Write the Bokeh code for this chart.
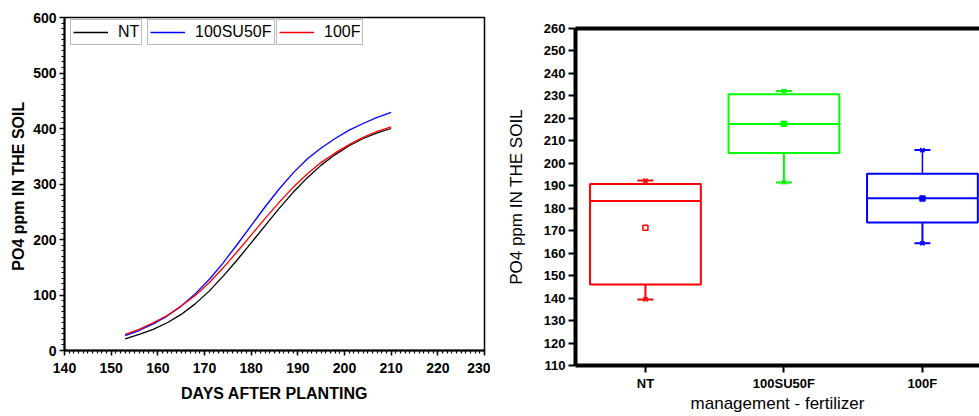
from bokeh.plotting import figure
from bokeh.layouts import row, column
from bokeh.models import (Range1d, LinearAxis, FixedTicker, Legend, LegendItem,
                          SingleIntervalTicker, ColumnDataSource)
from bokeh.embed import file_html
from bokeh.resources import INLINE

# ---------------- data: left chart (curves) ----------------
days = [153, 156, 159, 162, 165, 168, 171, 174, 177, 180,
        183, 186, 189, 192, 195, 198, 201, 204, 207, 210]
nt_vals = [21, 29, 38, 50, 65, 84, 107, 134, 163, 194,
           225, 256, 285, 311, 334, 353, 369, 382, 392, 400]
su50f_vals = [27, 36, 48, 62, 80, 102, 128, 158, 191, 225,
              259, 291, 320, 345, 365, 382, 397, 409, 420, 429]
f100_vals = [29, 38, 50, 63, 80, 99, 122, 149, 178, 208,
             238, 267, 294, 318, 339, 356, 371, 384, 395, 403]
series_names = ["NT", "100SU50F", "100F"]

# ---------------- data: right chart (box plot) ----------------
categories = ["NT", "100SU50F", "100F"]
q1 = [146.1, 204.6, 173.6]
median = [183.2, 217.5, 184.4]
q3 = [190.8, 230.7, 195.3]
mean = [171.3, 217.6, 184.3]
whisk_low = [139.4, 191.5, 164.4]
whisk_high = [192.3, 232.2, 205.9]

FONT = "Liberation Sans"

# ================= left figure =================
p1 = figure(width=490, height=416, x_range=Range1d(140, 230), y_range=Range1d(0, 600),
            output_backend="svg", toolbar_location=None,
            min_border_left=64, min_border_right=6, min_border_top=17, min_border_bottom=66)
p1.xgrid.visible = False
p1.ygrid.visible = False
p1.outline_line_color = "black"
p1.outline_line_width = 1.5
p1.background_fill_color = "white"
p1.border_fill_color = "white"

p1.xaxis.ticker = SingleIntervalTicker(interval=10, num_minor_ticks=10)
p1.yaxis.ticker = SingleIntervalTicker(interval=100, num_minor_ticks=10)
for ax in (p1.xaxis[0], p1.yaxis[0]):
    ax.axis_line_width = 2
    ax.major_tick_in = 0
    ax.major_tick_out = 5
    ax.minor_tick_in = 0
    ax.minor_tick_out = 3
    ax.major_tick_line_width = 1.5
    ax.minor_tick_line_width = 1.2
    ax.major_label_text_font = FONT
    ax.major_label_text_font_size = "14px"
    ax.major_label_text_font_style = "bold"
    ax.major_label_text_color = "black"
    ax.axis_label_text_font = FONT
    ax.axis_label_text_font_size = "16px"
    ax.axis_label_text_font_style = "bold"
    ax.axis_label_text_color = "black"
p1.xaxis.axis_label = "DAYS AFTER PLANTING"
p1.yaxis.axis_label = "PO4 ppm  IN THE SOIL"
p1.xaxis.major_label_standoff = 7
p1.xaxis.axis_label_standoff = 9
p1.yaxis.major_label_standoff = 3
p1.yaxis.axis_label_standoff = 3

r_nt = p1.line(days, nt_vals, line_color="black", line_width=1.3)
r_su = p1.line(days, su50f_vals, line_color="#0000FF", line_width=1.3)
r_f = p1.line(days, f100_vals, line_color="#FF0000", line_width=1.3)

for name, rend, vx in zip(series_names, [r_nt, r_su, r_f], [6, 83, 212]):
    leg = Legend(items=[LegendItem(label=name, renderers=[rend])], location=(vx, 305),
                 orientation="horizontal", border_line_color="#777777", border_line_width=1.5,
                 label_text_font=FONT, label_text_font_size="16px", label_text_color="black",
                 label_height=20, glyph_width=35, glyph_height=16, padding=2, margin=0, spacing=0,
                 label_standoff=10, background_fill_color="white", background_fill_alpha=1)
    p1.add_layout(leg)

# ================= right figure =================
xs = [i + 1 for i in range(len(categories))]
colors = ["#FF0000", "#00FF00", "#0000FF"]
mean_fill = ["white", "#00FF00", "#0000FF"]

p2 = figure(width=489, height=416, x_range=Range1d(0.495, 3.412), y_range=Range1d(110, 260),
            output_backend="svg", toolbar_location=None,
            min_border_left=85, min_border_right=0, min_border_top=28, min_border_bottom=51)
p2.xgrid.visible = False
p2.ygrid.visible = False
p2.outline_line_color = None
p2.background_fill_color = "white"
p2.border_fill_color = "white"

p2.yaxis.ticker = SingleIntervalTicker(interval=10, num_minor_ticks=0)
p2.xaxis.ticker = FixedTicker(ticks=xs)
p2.xaxis.major_label_overrides = {x: c for x, c in zip(xs, categories)}
for ax in (p2.xaxis[0], p2.yaxis[0]):
    ax.axis_line_width = 4
    ax.major_tick_in = 0
    ax.major_tick_out = 7
    ax.minor_tick_out = 0
    ax.minor_tick_in = 0
    ax.major_tick_line_width = 2
    ax.major_label_text_font = FONT
    ax.major_label_text_font_size = "13px"
    ax.major_label_text_font_style = "bold"
    ax.major_label_text_color = "black"
    ax.axis_label_text_font = FONT
    ax.axis_label_text_font_size = "17px"
    ax.axis_label_text_font_style = "normal"
    ax.axis_label_text_color = "black"
p2.xaxis.axis_label = "management - fertilizer"
p2.yaxis.axis_label = "PO4 ppm IN THE SOIL"
p2.xaxis.major_label_standoff = 3
p2.xaxis.axis_label_standoff = 0
p2.yaxis.major_label_standoff = 3
p2.yaxis.axis_label_standoff = 15

top_axis = LinearAxis(ticker=FixedTicker(ticks=[]), axis_line_width=4,
                      major_tick_out=0, major_tick_in=0, minor_tick_out=0, minor_tick_in=0)
p2.add_layout(top_axis, "above")

src = ColumnDataSource(dict(x=xs, q1=q1, q3=q3, med=median, mean=mean,
                            lo=whisk_low, hi=whisk_high, color=colors, mfill=mean_fill,
                            x0=[x - 0.4 for x in xs], x1=[x + 0.4 for x in xs]))

p2.vbar(x="x", width=0.8, bottom="q1", top="q3", source=src,
        fill_color=None, line_color="color", line_width=2)
p2.segment(x0="x", y0="q3", x1="x", y1="hi", source=src, line_color="color", line_width=1.5)
p2.segment(x0="x", y0="q1", x1="x", y1="lo", source=src, line_color="color", line_width=2)
p2.scatter(x="x", y="hi", source=src, marker="dash", size=16, line_color="color", line_width=2)
p2.scatter(x="x", y="lo", source=src, marker="dash", size=16, line_color="color", line_width=2)
p2.scatter(x="x", y="hi", source=src, marker="x", size=6, line_color="color", line_width=1.5)
p2.scatter(x="x", y="lo", source=src, marker="x", size=6, line_color="color", line_width=1.5)
p2.segment(x0="x0", y0="med", x1="x1", y1="med", source=src, line_color="color", line_width=2)
p2.scatter(x="x", y="mean", source=src, marker="square", size=5,
           fill_color="mfill", line_color="color", line_width=1.5)

layout = row(column(p1), column(p2))
open("out.html", "w").write(file_html(layout, INLINE))
